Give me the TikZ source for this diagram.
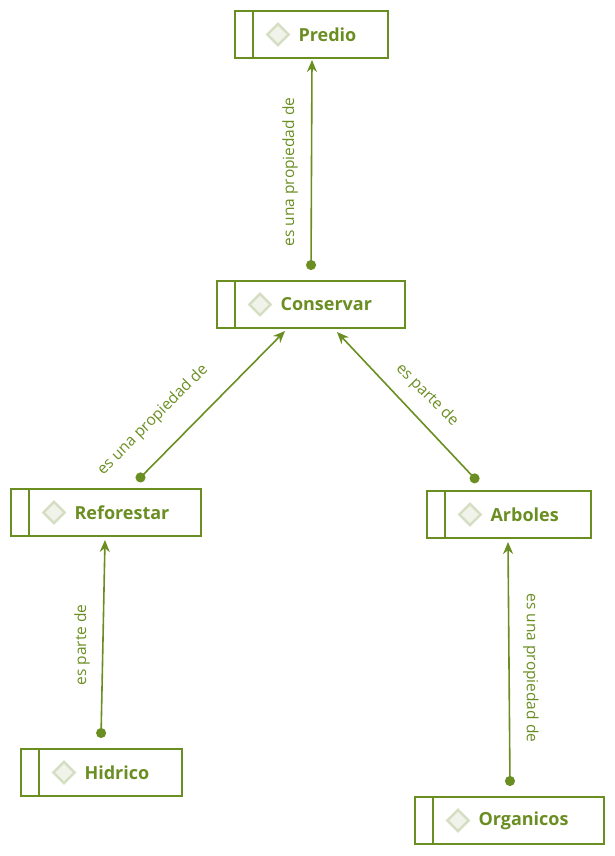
\documentclass[tikz,border=0pt]{standalone}
\usepackage{fontspec}
\setmainfont{Open Sans}
\usetikzlibrary{arrows.meta}
\definecolor{ol}{HTML}{6B8E23}
\definecolor{dia}{HTML}{D5DEC2}
\tikzset{
 ent/.style={draw=ol,line width=1.6pt,minimum height=47pt,inner sep=0pt},
 lab/.style={text=ol,font=\fontsize{15.5}{18}\selectfont},
 con/.style={draw=ol,line width=1.6pt,{Circle[length=10pt]}-{Stealth[length=12pt,width=10pt]}},
}
\newcommand{\ent}[6]{% name, left, top, right, bottom, text
 \node[ent,minimum width={#4pt-#2pt}] (#1) at ({(#2+#4)/2},{(#3+#5)/2}) {};
 \draw[ol,line width=1.6pt] ({#2+18},#3) -- ({#2+18},#5);
 \node[draw=dia,fill=dia!35,line width=2.6pt,minimum size=15pt,rotate=45,inner sep=0pt] at ({#2+43},{(#3+#5)/2}) {};
 \node[anchor=west,text=ol,font=\fontsize{18}{20}\selectfont\bfseries] at ({#2+60},{(#3+#5)/2}) {#6};
}
\begin{document}
\begin{tikzpicture}[x=1pt,y=-1pt]
\useasboundingbox (0,0) rectangle (615,856);
\ent{predio}{235}{11}{388}{58}{Predio}
\ent{cons}{217}{281}{405}{328}{Conservar}
\ent{refo}{11}{489}{201}{536}{Reforestar}
\ent{arb}{427}{491}{591}{538}{Arboles}
\ent{hid}{21}{749}{182}{796}{Hidrico}
\ent{org}{415}{797}{604}{844}{Organicos}
\coordinate (a1) at (311,270); \coordinate (b1) at (312,60);
\coordinate (a2) at (137,481); \coordinate (b2) at (285,331);
\coordinate (a3) at (478,482); \coordinate (b3) at (337,332);
\coordinate (a4) at (101,738); \coordinate (b4) at (105,540);
\coordinate (a5) at (510,786); \coordinate (b5) at (508,542);
\draw[con] (a1) -- (b1);
\draw[con] (a2) -- (b2);
\draw[con] (a3) -- (b3);
\draw[con] (a4) -- (b4);
\draw[con] (a5) -- (b5);
\node[lab,rotate=90] at (290,172) {es una propiedad de};
\node[lab,rotate=45] at (153,420) {es una propiedad de};
\node[lab,rotate=-45] at (427,395) {es parte de};
\node[lab,rotate=90] at (82,645) {es parte de};
\node[lab,rotate=-90] at (531,668) {es una propiedad de};
\end{tikzpicture}
\end{document}
